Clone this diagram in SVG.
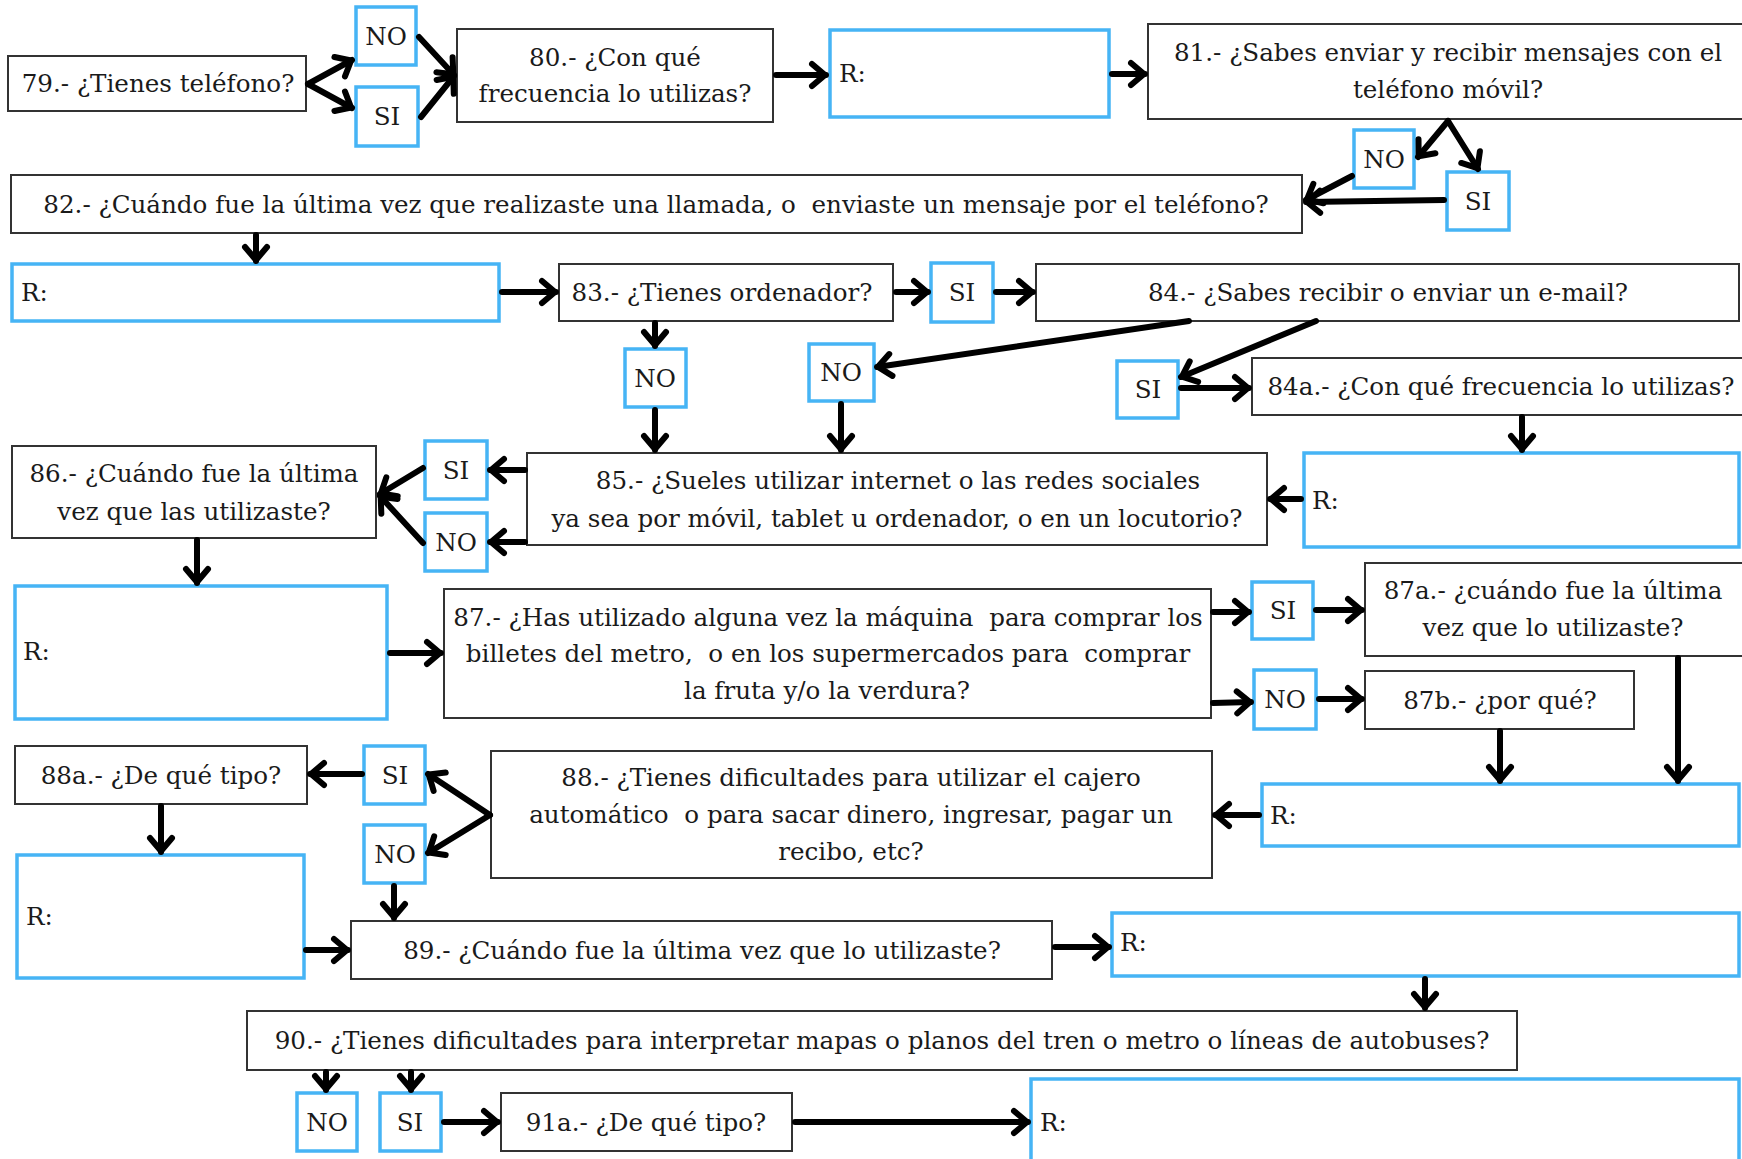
<svg xmlns="http://www.w3.org/2000/svg" width="1742" height="1159" viewBox="0 0 1742 1159">
  <style>
    .q { fill: #fff; stroke: #333; stroke-width: 2; }
    .a { fill: #fff; stroke: #46b4f5; stroke-width: 3.5; }
    text { font-family: "DejaVu Serif", "Liberation Serif", serif; font-size: 24.6px; fill: #1a1a1a; white-space: pre; }
    .c { text-anchor: middle; }
    .wire { fill: none; stroke: #000; stroke-width: 6; stroke-linecap: round; marker-end: url(#chev); }
  </style>
  <defs>
    <marker id="chev" viewBox="0 0 30 30" refX="20" refY="15" markerWidth="30" markerHeight="30" markerUnits="userSpaceOnUse" orient="auto">
      <path d="M6,4 L19,15 L6,26" fill="none" stroke="#000" stroke-width="6" stroke-linecap="round" stroke-linejoin="round"/>
    </marker>
  </defs>
  <rect width="1742" height="1159" fill="#fff"/>

  <!-- question and answer boxes -->
  <g id="q79"><rect class="q" x="8" y="56" width="298" height="55"/><text class="c" x="158" y="92">79.- ¿Tienes teléfono?</text></g>
  <g id="q79-no"><rect class="a" x="356" y="7" width="60" height="58"/><text class="c" x="386" y="45">NO</text></g>
  <g id="q79-si"><rect class="a" x="356" y="87" width="62" height="59"/><text class="c" x="387" y="125">SI</text></g>
  <g id="q80"><rect class="q" x="457" y="29" width="316" height="93"/><text class="c" x="615" y="66">80.- ¿Con qué</text><text class="c" x="615" y="102">frecuencia lo utilizas?</text></g>
  <g id="r80"><rect class="a" x="830" y="30" width="279" height="87"/><text x="839" y="82">R:</text></g>
  <g id="q81"><rect class="q" x="1148" y="24" width="600" height="95"/><text class="c" x="1448" y="61">81.- ¿Sabes enviar y recibir mensajes con el</text><text class="c" x="1448" y="98">teléfono móvil?</text></g>
  <g id="q81-no"><rect class="a" x="1354" y="130" width="60" height="58"/><text class="c" x="1384" y="168">NO</text></g>
  <g id="q81-si"><rect class="a" x="1447" y="172" width="62" height="58"/><text class="c" x="1478" y="210">SI</text></g>
  <g id="q82"><rect class="q" x="11" y="175" width="1291" height="58"/><text class="c" x="656" y="213">82.- ¿Cuándo fue la última vez que realizaste una llamada, o  enviaste un mensaje por el teléfono?</text></g>
  <g id="r82"><rect class="a" x="12" y="264" width="487" height="57"/><text x="21" y="301">R:</text></g>
  <g id="q83"><rect class="q" x="559" y="264" width="334" height="57"/><text class="c" x="722" y="301">83.- ¿Tienes ordenador?</text></g>
  <g id="q83-si"><rect class="a" x="931" y="263" width="62" height="59"/><text class="c" x="962" y="301">SI</text></g>
  <g id="q84"><rect class="q" x="1036" y="264" width="703" height="57"/><text class="c" x="1388" y="301">84.- ¿Sabes recibir o enviar un e-mail?</text></g>
  <g id="q83-no"><rect class="a" x="625" y="349" width="61" height="58"/><text class="c" x="655" y="387">NO</text></g>
  <g id="q84-no"><rect class="a" x="809" y="344" width="65" height="57"/><text class="c" x="841" y="381">NO</text></g>
  <g id="q84-si"><rect class="a" x="1117" y="361" width="61" height="57"/><text class="c" x="1148" y="398">SI</text></g>
  <g id="q84a"><rect class="q" x="1252" y="358" width="496" height="57"/><text class="c" x="1501" y="395">84a.- ¿Con qué frecuencia lo utilizas?</text></g>
  <g id="q85"><rect class="q" x="527" y="453" width="740" height="92"/><text class="c" x="898" y="489">85.- ¿Sueles utilizar internet o las redes sociales</text><text class="c" x="897" y="527">ya sea por móvil, tablet u ordenador, o en un locutorio?</text></g>
  <g id="r84a"><rect class="a" x="1304" y="453" width="435" height="94"/><text x="1312" y="509">R:</text></g>
  <g id="q85-si"><rect class="a" x="425" y="441" width="62" height="58"/><text class="c" x="456" y="479">SI</text></g>
  <g id="q85-no"><rect class="a" x="425" y="513" width="62" height="58"/><text class="c" x="456" y="551">NO</text></g>
  <g id="q86"><rect class="q" x="12" y="446" width="364" height="92"/><text class="c" x="194" y="482">86.- ¿Cuándo fue la última</text><text class="c" x="194" y="520">vez que las utilizaste?</text></g>
  <g id="r86"><rect class="a" x="15" y="586" width="372" height="133"/><text x="23" y="660">R:</text></g>
  <g id="q87"><rect class="q" x="444" y="589" width="767" height="129"/><text class="c" x="828" y="626">87.- ¿Has utilizado alguna vez la máquina  para comprar los</text><text class="c" x="828" y="662">billetes del metro,  o en los supermercados para  comprar</text><text class="c" x="827" y="699">la fruta y/o la verdura?</text></g>
  <g id="q87-si"><rect class="a" x="1252" y="582" width="61" height="57"/><text class="c" x="1283" y="619">SI</text></g>
  <g id="q87a"><rect class="q" x="1365" y="563" width="380" height="93"/><text class="c" x="1553" y="599">87a.- ¿cuándo fue la última</text><text class="c" x="1553" y="636">vez que lo utilizaste?</text></g>
  <g id="q87-no"><rect class="a" x="1254" y="670" width="62" height="59"/><text class="c" x="1285" y="708">NO</text></g>
  <g id="q87b"><rect class="q" x="1365" y="671" width="269" height="58"/><text class="c" x="1500" y="709">87b.- ¿por qué?</text></g>
  <g id="r87"><rect class="a" x="1262" y="784" width="477" height="62"/><text x="1270" y="824">R:</text></g>
  <g id="q88"><rect class="q" x="491" y="751" width="721" height="127"/><text class="c" x="851" y="786">88.- ¿Tienes dificultades para utilizar el cajero</text><text class="c" x="851" y="823">automático  o para sacar dinero, ingresar, pagar un</text><text class="c" x="851" y="860">recibo, etc?</text></g>
  <g id="q88-si"><rect class="a" x="364" y="746" width="61" height="58"/><text class="c" x="395" y="784">SI</text></g>
  <g id="q88-no"><rect class="a" x="364" y="825" width="61" height="58"/><text class="c" x="395" y="863">NO</text></g>
  <g id="q88a"><rect class="q" x="15" y="746" width="292" height="58"/><text class="c" x="161" y="784">88a.- ¿De qué tipo?</text></g>
  <g id="r88a"><rect class="a" x="17" y="855" width="287" height="123"/><text x="26" y="925">R:</text></g>
  <g id="q89"><rect class="q" x="351" y="921" width="701" height="58"/><text class="c" x="702" y="959">89.- ¿Cuándo fue la última vez que lo utilizaste?</text></g>
  <g id="r89"><rect class="a" x="1112" y="913" width="627" height="63"/><text x="1120" y="951">R:</text></g>
  <g id="q90"><rect class="q" x="247" y="1011" width="1270" height="59"/><text class="c" x="882" y="1049">90.- ¿Tienes dificultades para interpretar mapas o planos del tren o metro o líneas de autobuses?</text></g>
  <g id="q90-no"><rect class="a" x="297" y="1093" width="60" height="58"/><text class="c" x="327" y="1131">NO</text></g>
  <g id="q90-si"><rect class="a" x="380" y="1093" width="61" height="58"/><text class="c" x="410" y="1131">SI</text></g>
  <g id="q91a"><rect class="q" x="501" y="1093" width="291" height="58"/><text class="c" x="646" y="1131">91a.- ¿De qué tipo?</text></g>
  <g id="r91a"><rect class="a" x="1031" y="1079" width="708" height="90"/><text x="1040" y="1131">R:</text></g>

  <!-- connectors -->
  <g id="connectors">
    <path class="wire" d="M308,84 L352,60"/>
    <path class="wire" d="M308,84 L352,108"/>
    <path class="wire" d="M419,37 L454,75"/>
    <path class="wire" d="M421,117 L454,76"/>
    <path class="wire" d="M776,75 L826,75"/>
    <path class="wire" d="M1112,74 L1145,74"/>
    <path class="wire" d="M1448,121 L1418,157"/>
    <path class="wire" d="M1448,121 L1478,169"/>
    <path class="wire" d="M1352,176 L1306,200"/>
    <path class="wire" d="M1444,200 L1306,202"/>
    <path class="wire" d="M256,235 L256,261"/>
    <path class="wire" d="M502,292 L556,292"/>
    <path class="wire" d="M896,292 L928,292"/>
    <path class="wire" d="M996,292 L1033,292"/>
    <path class="wire" d="M655,323 L655,346"/>
    <path class="wire" d="M655,410 L655,450"/>
    <path class="wire" d="M841,404 L841,450"/>
    <path class="wire" d="M1189,321 L877,367"/>
    <path class="wire" d="M1316,321 L1181,377"/>
    <path class="wire" d="M1181,388 L1249,388"/>
    <path class="wire" d="M1522,417 L1522,450"/>
    <path class="wire" d="M1301,499 L1270,499"/>
    <path class="wire" d="M525,470 L490,470"/>
    <path class="wire" d="M525,542 L490,542"/>
    <path class="wire" d="M423,468 L380,494"/>
    <path class="wire" d="M423,543 L380,496"/>
    <path class="wire" d="M197,540 L197,583"/>
    <path class="wire" d="M390,653 L441,653"/>
    <path class="wire" d="M1213,612 L1249,612"/>
    <path class="wire" d="M1316,610 L1362,610"/>
    <path class="wire" d="M1213,703 L1251,702"/>
    <path class="wire" d="M1319,699 L1362,699"/>
    <path class="wire" d="M1500,731 L1500,781"/>
    <path class="wire" d="M1678,658 L1678,781"/>
    <path class="wire" d="M1259,815 L1215,815"/>
    <path class="wire" d="M490,815 L428,774"/>
    <path class="wire" d="M490,815 L428,853"/>
    <path class="wire" d="M362,774 L310,774"/>
    <path class="wire" d="M161,806 L161,852"/>
    <path class="wire" d="M394,886 L394,918"/>
    <path class="wire" d="M306,950 L348,950"/>
    <path class="wire" d="M1055,947 L1109,947"/>
    <path class="wire" d="M1425,979 L1425,1008"/>
    <path class="wire" d="M326,1072 L326,1090"/>
    <path class="wire" d="M411,1072 L411,1090"/>
    <path class="wire" d="M444,1122 L498,1122"/>
    <path class="wire" d="M795,1122 L1028,1122"/>
  </g>
</svg>
